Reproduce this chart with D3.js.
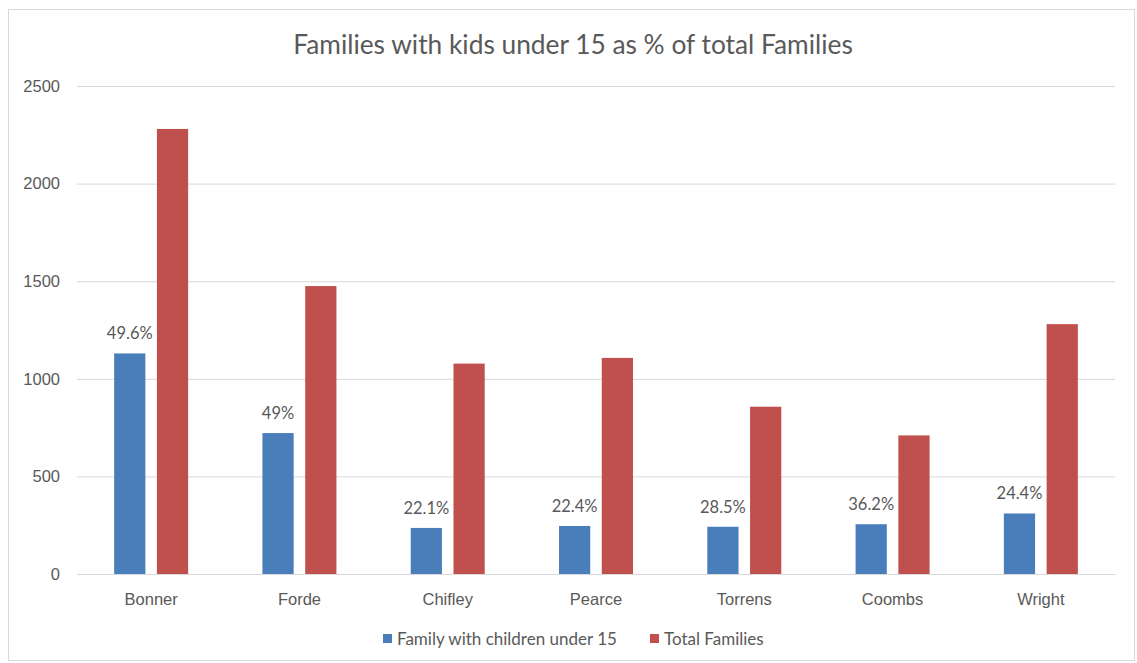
<!DOCTYPE html>
<html>
<head>
<meta charset="utf-8">
<script src="https://cdn.jsdelivr.net/npm/d3@7"></script>
<style>
  body { margin: 0; background: #fff; }
  svg { display: block; font-family: Lato, "Open Sans", sans-serif; }
  .tick text { fill: #595959; font-size: 16.5px; }
  .grid line { stroke: #d9d9d9; }
  .grid .domain { display: none; }
</style>
</head>
<body>
<svg id="chart" width="1137" height="663"></svg>
<script>
const electorates = ["Bonner", "Forde", "Chifley", "Pearce", "Torrens", "Coombs", "Wright"];
const familiesWithKids = [1130, 722, 236, 246, 242, 255, 310];
const totalFamilies = [2280, 1475, 1078, 1107, 857, 710, 1280];
const kidsShareLabels = ["49.6%", "49%", "22.1%", "22.4%", "28.5%", "36.2%", "24.4%"];
const yTicks = [0, 500, 1000, 1500, 2000, 2500];
const seriesNames = ["Family with children under 15", "Total Families"];
const seriesColors = ["#4a7ebb", "#c0504d"];

const svg = d3.select("#chart");
const margin = { top: 86, right: 22, bottom: 89, left: 77 };
const width = +svg.attr("width");
const height = +svg.attr("height");

// Outer chart-area frame
svg.append("rect")
  .attr("x", 8.5).attr("y", 9.5)
  .attr("width", 1126).attr("height", 651)
  .attr("fill", "#fff")
  .attr("stroke", "#d9d9d9");

svg.append("text")
  .attr("x", 573).attr("y", 54)
  .attr("text-anchor", "middle")
  .attr("fill", "#595959")
  .style("font-size", "26.3px")
  .text("Families with kids under 15 as % of total Families");

const x = d3.scaleBand()
  .domain(electorates)
  .range([margin.left, width - margin.right]);

const y = d3.scaleLinear()
  .domain([0, 2500])
  .range([height - margin.bottom, margin.top]);

// Horizontal gridlines + y labels
svg.append("g")
  .attr("class", "grid")
  .attr("transform", `translate(${margin.left},0)`)
  .call(d3.axisLeft(y).tickValues(yTicks).tickFormat(d3.format("d"))
    .tickSize(-(width - margin.left - margin.right))
    .tickPadding(17))
  .call(g => g.selectAll(".tick line").attr("stroke", "#d9d9d9"));

// Category axis
svg.append("g")
  .attr("transform", `translate(0,${height - margin.bottom})`)
  .call(d3.axisBottom(x).tickSize(0).tickPadding(19))
  .call(g => g.select(".domain").attr("stroke", "#d9d9d9"));

const rows = electorates.map((name, i) => ({
  name,
  values: [familiesWithKids[i], totalFamilies[i]],
  label: kidsShareLabels[i]
}));

const inner = d3.scaleBand()
  .domain([0, 1])
  .range([0, 74])
  .paddingInner(0.27);

const groups = svg.append("g")
  .selectAll("g")
  .data(rows)
  .join("g")
  .attr("transform", d => `translate(${x(d.name) + x.bandwidth() / 2 - 37},0)`);

groups.selectAll("rect")
  .data(d => d.values)
  .join("rect")
  .attr("x", (v, i) => inner(i))
  .attr("width", inner.bandwidth())
  .attr("y", v => y(v))
  .attr("height", v => y(0) - y(v))
  .attr("fill", (v, i) => seriesColors[i]);

groups.append("text")
  .attr("x", inner(0) + inner.bandwidth() / 2)
  .attr("y", d => y(d.values[0]) - 14)
  .attr("text-anchor", "middle")
  .attr("fill", "#595959")
  .style("font-size", "16.5px")
  .text(d => d.label);

// Legend
const legend = svg.append("g")
  .selectAll("g")
  .data(seriesNames)
  .join("g")
  .attr("transform", (d, i) => `translate(${i === 0 ? 383 : 650},634)`);

legend.append("rect")
  .attr("width", 9).attr("height", 9)
  .attr("fill", (d, i) => seriesColors[i]);

legend.append("text")
  .attr("x", 14).attr("y", 10.5)
  .attr("fill", "#595959")
  .style("font-size", "17px")
  .text(d => d);
</script>
</body>
</html>
